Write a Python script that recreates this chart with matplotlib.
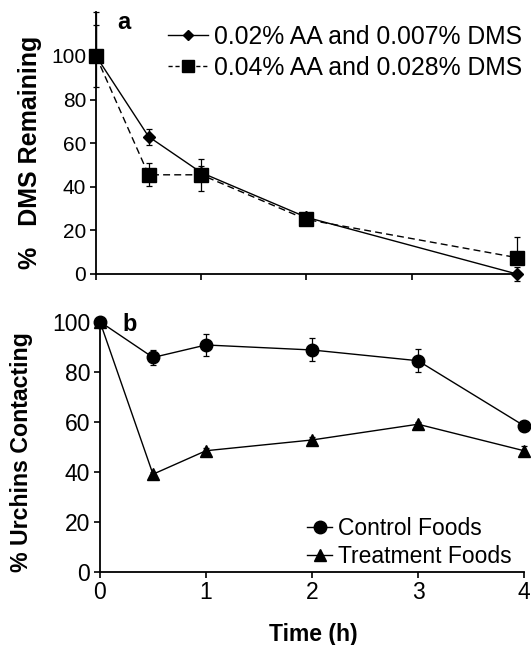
import matplotlib
matplotlib.use('Agg')
import matplotlib.pyplot as plt
from matplotlib.lines import Line2D

plt.rcParams['font.family'] = ['Liberation Sans', 'DejaVu Sans']

# panel a: DMS remaining over time
time_a = [0, 0.5, 1, 2, 4]
low_dms = [100, 63, 46.5, 26, 0]
low_dms_err = [14, 3.7, 3, 2, 3]
high_dms = [100, 45.5, 45.5, 25, 7.5]
high_dms_err_lo = [0, 5.3, 7.4, 2, 0]
high_dms_err_hi = [20, 5.3, 7.4, 2, 9.6]
labels_a = ['0.02% AA and 0.007% DMS', '0.04% AA and 0.028% DMS']

# panel b: urchins contacting foods
time_b = [0, 0.5, 1, 2, 3, 4]
control = [100, 85.7, 90.7, 88.7, 84.4, 58.4]
control_err = [0, 3, 4.5, 4.6, 4.6, 0.8]
treatment = [100, 39, 48.4, 52.7, 59, 48.4]
treatment_err = [0, 1, 1, 1, 1, 2]
labels_b = ['Control Foods', 'Treatment Foods']

fig = plt.figure(figsize=(5.31, 6.45), dpi=100)
ax1 = fig.add_axes([0.1808, 0.5752, 0.7928, 0.4056])
ax2 = fig.add_axes([0.1883, 0.1136, 0.7985, 0.3876])

eb = dict(ecolor='black', elinewidth=0.9, capsize=2.5, capthick=0.9, clip_on=False)
dash = (0, (5, 3))

h1 = ax1.errorbar(time_a, low_dms, yerr=low_dms_err, color='black', lw=1.0,
                  marker='D', ms=6, zorder=4, **eb)
h2 = ax1.errorbar(time_a, high_dms, yerr=[high_dms_err_lo, high_dms_err_hi], color='black',
                  lw=1.0, ls=dash, marker='s', ms=10, zorder=3, **eb)
h3 = ax2.errorbar(time_b, control, yerr=control_err, color='black', lw=1.0,
                  marker='o', ms=9, zorder=3, **eb)
h4 = ax2.errorbar(time_b, treatment, yerr=treatment_err, color='black', lw=1.0,
                  marker='^', ms=8.5, zorder=3, **eb)
for h in (h1, h2, h3, h4):
    for art in h.get_children():
        art.set_clip_on(False)

for ax in (ax1, ax2):
    ax.spines['top'].set_visible(False)
    ax.spines['right'].set_visible(False)
    ax.spines['left'].set_linewidth(1.3)
    ax.spines['bottom'].set_linewidth(1.3)
    ax.set_xlim(0, 4)
    ax.set_xticks([0, 1, 2, 3, 4])
    ax.set_yticks([0, 20, 40, 60, 80, 100])
    ax.tick_params(axis='both', direction='out', length=4, width=1.2, pad=3)

ax1.set_ylim(0, 120)
ax1.tick_params(axis='x', labelbottom=False)
ax1.tick_params(axis='y', labelsize=15)
ax2.set_ylim(0, 100)
ax2.tick_params(axis='both', labelsize=16.5)

ax1.set_ylabel('%   DMS Remaining', fontsize=18, fontweight='bold')
ax1.yaxis.set_label_coords(-0.128, 0.466)
ax2.set_ylabel('% Urchins Contacting', fontsize=16.7, fontweight='bold')
ax2.yaxis.set_label_coords(-0.158, 0.479)
ax2.set_xlabel('Time (h)', fontsize=16.5, fontweight='bold')
ax2.xaxis.set_label_coords(0.502, -0.205)

ax1.text(0.0665, 0.963, 'a', transform=ax1.transAxes, fontsize=17,
         fontweight='bold', ha='center', va='center')
ax2.text(0.071, 0.987, 'b', transform=ax2.transAxes, fontsize=17,
         fontweight='bold', ha='center', va='center')

leg_a = [Line2D([], [], color='black', lw=1.0, marker='D', ms=5.5),
         Line2D([], [], color='black', lw=1.0, ls=(0, (3, 2)), marker='s', ms=9)]
leg_b = [Line2D([], [], color='black', lw=1.0, marker='o', ms=9),
         Line2D([], [], color='black', lw=1.0, marker='^', ms=8.5)]

ax1.legend(leg_a, labels_a, loc='upper left', bbox_to_anchor=(0.171, 0.952),
           frameon=False, fontsize=17.8, borderpad=0, borderaxespad=0,
           handlelength=1.6, handletextpad=0.25, labelspacing=0.27)
ax2.legend(leg_b, labels_b, loc='lower left', bbox_to_anchor=(0.488, 0.015),
           frameon=False, fontsize=16.5, borderpad=0, borderaxespad=0,
           handlelength=1.1, handletextpad=0.25, labelspacing=0.2)

fig.savefig('out.png', dpi=100)
